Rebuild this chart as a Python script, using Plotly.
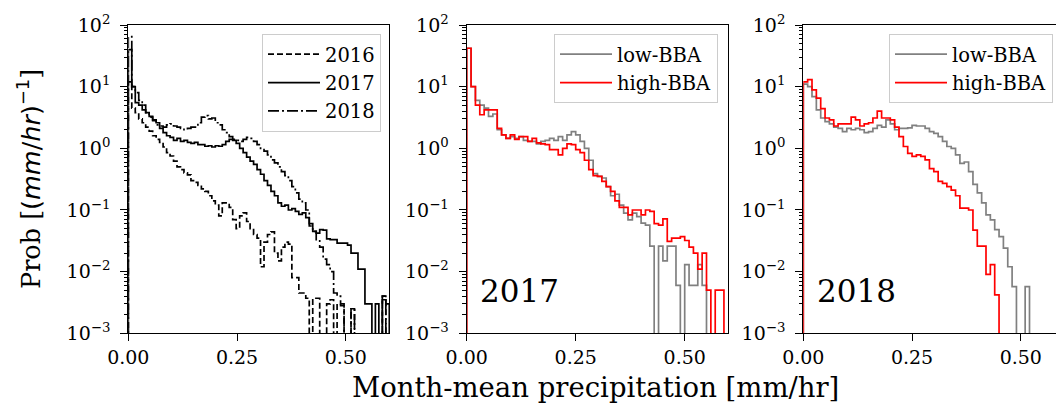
import numpy as np
import plotly.graph_objects as go

# ---------------- data ----------------
# left panel: bin width 0.008 mm/hr, 75 bins from 0 to 0.6
LEFT_BIN = 0.008
y2016 = [12, 4.5, 3.8, 3.0, 2.6, 2.2, 1.9, 1.6, 1.4, 1.25,
         1.05, 0.85, 0.75, 0.62, 0.5, 0.45, 0.4, 0.37, 0.3, 0.28,
         0.25, 0.22, 0.2, 0.17, 0.14, 0.12, 0.08, 0.13, 0.13, 0.11,
         0.07, 0.05, 0.08, 0.09, 0.065, 0.05, 0.04, 0.035, 0.012, 0.03,
         0.04, 0.044, 0.02, 0.015, 0.025, 0.03, 0.028, 0.008, 0.008, 0.0045,
         0.0045, 0.0037, 0, 0.0037, 0.0037, 0, 0, 0.003, 0.0035, 0,
         0.003, 0.0028, 0, 0, 0.0025, 0, 0, 0, 0, 0,
         0, 0, 0, 0.004, 0]
y2017 = [40, 10, 5.5, 5.0, 4.2, 3.8, 3.3, 2.9, 2.6, 2.1,
         1.8, 1.6, 1.5, 1.35, 1.45, 1.3, 1.35, 1.25, 1.2, 1.25,
         1.15, 1.15, 1.08, 1.1, 1.05, 1.1, 1.08, 1.15, 1.3, 1.4,
         1.35, 1.2, 1.0, 0.85, 0.72, 0.62, 0.55, 0.45, 0.38, 0.3,
         0.25, 0.2, 0.17, 0.13, 0.115, 0.12, 0.1, 0.105, 0.095, 0.085,
         0.09, 0.075, 0.06, 0.045, 0.042, 0.048, 0.047, 0.034, 0.033, 0.033,
         0.029, 0.029, 0.029, 0.027, 0.02, 0.02, 0.011, 0.011, 0.003, 0.003,
         0, 0.003, 0, 0.0035, 0.003]
y2018 = [65, 10, 8, 6, 5, 3.8, 3.2, 2.8, 2.4, 2.3,
         2.2, 2.4, 2.5, 2.3, 2.2, 2.1, 2.0, 2.1, 2.2, 2.2,
         2.6, 3.2, 3.4, 3.0, 3.1, 2.6, 2.4, 2.0, 1.8, 1.55,
         1.4, 1.35, 1.3, 1.4, 1.5, 1.45, 1.3, 1.15, 1.0, 0.9,
         0.78, 0.65, 0.58, 0.5, 0.42, 0.36, 0.3, 0.24, 0.19, 0.15,
         0.13, 0.1, 0.055, 0.045, 0.033, 0.025, 0.016, 0.013, 0.01, 0.0045,
         0.004, 0.003, 0, 0, 0.0025, 0, 0, 0, 0, 0,
         0, 0, 0, 0.004, 0]

# middle / right panels: bin width 0.01 mm/hr, 60 bins from 0 to 0.6
BBA_BIN = 0.01
lo2017 = [42, 10, 6.0, 5.0, 4.5, 3.3, 3.6, 2.0, 1.65, 1.45,
          1.55, 1.45, 1.55, 1.35, 1.3, 1.3, 1.18, 1.3, 1.35, 1.45,
          1.35, 1.55, 1.35, 1.65, 1.86, 1.65, 1.3, 1.0, 0.64, 0.39,
          0.35, 0.33, 0.24, 0.17, 0.18, 0.12, 0.089, 0.069, 0.089, 0.078,
          0.061, 0.057, 0.026, 0, 0.026, 0.015, 0.026, 0.026, 0.006, 0,
          0.013, 0.006, 0.006, 0.013, 0.006, 0, 0, 0, 0, 0]
hi2017 = [42, 10, 5.0, 3.5, 4.2, 4.2, 4.2, 2.1, 1.65, 1.45,
          1.65, 1.4, 1.55, 1.55, 1.3, 1.45, 1.23, 1.18, 1.15, 0.95,
          0.95, 0.78, 1.0, 1.18, 1.15, 0.95, 0.85, 0.64, 0.45, 0.36,
          0.35, 0.29, 0.24, 0.2, 0.14, 0.11, 0.11, 0.083, 0.1, 0.1,
          0.083, 0.1, 0.095, 0.06, 0.057, 0.072, 0.031, 0.035, 0.035, 0.037,
          0.032, 0.025, 0.02, 0.011, 0.02, 0.005, 0, 0.005, 0.005, 0]
lo2018 = [11, 10, 6.9, 4.2, 3.1, 2.7, 2.5, 2.2, 2.1, 1.86,
          2.1, 2.0, 2.1, 2.0, 1.8, 1.86, 2.1, 2.35, 2.2, 2.9,
          2.5, 2.0, 2.1, 2.1, 2.15, 2.35, 2.3, 2.3, 2.1, 1.86,
          1.75, 1.55, 1.3, 1.07, 1.0, 0.78, 0.57, 0.6, 0.42, 0.26,
          0.19, 0.13, 0.083, 0.069, 0.048, 0.037, 0.024, 0.012, 0.0057, 0,
          0, 0.0057, 0, 0, 0, 0, 0, 0, 0, 0]
hi2018 = [12, 13, 8.9, 6.5, 4.4, 3.1, 2.9, 2.3, 2.5, 2.5,
          2.5, 3.2, 2.9, 2.3, 2.5, 2.6, 3.1, 4.0, 3.1, 3.1,
          2.9, 2.2, 1.55, 1.07, 0.83, 0.74, 0.78, 0.74, 0.65, 0.47,
          0.42, 0.29, 0.27, 0.24, 0.21, 0.17, 0.107, 0.107, 0.1, 0.047,
          0.026, 0.026, 0.009, 0.013, 0.0042, 0, 0, 0, 0, 0,
          0, 0, 0, 0, 0, 0, 0, 0, 0, 0]

x_tickvals = [0, 0.25, 0.5]
x_ticktext = ["0.00", "0.25", "0.50"]
y_tickvals = [1e-3, 1e-2, 1e-1, 1e0, 1e1, 1e2]
y_ticktext = ["10<sup>−3</sup>", "10<sup>−2</sup>", "10<sup>−1</sup>",
              "10<sup>0</sup>", "10<sup>1</sup>", "10<sup>2</sup>"]
minor_vals = [k * 10.0 ** p for p in range(-3, 2) for k in range(2, 10)]

# ---------------- helpers ----------------
FLOOR = 1e-7  # empty bins drop below the axis (log scale)


def step_xy(vals, width):
    n = len(vals)
    edges = np.arange(n + 1) * width
    x = [edges[0]] + list(edges[:-1]) + [edges[-1]]
    y = [FLOOR] + [v if v > 0 else FLOOR for v in vals] + [FLOOR]
    return x, y


SERIF = "DejaVu Serif"
W, H = 1056, 407

fig = go.Figure()


def add_step(vals, width, name, color, dash, xa, ya, legend):
    x, y = step_xy(vals, width)
    fig.add_trace(go.Scatter(
        x=x, y=y, mode="lines", name=name, line_shape="hv",
        line=dict(color=color, width=1.7, dash=dash),
        xaxis=xa, yaxis=ya, legend=legend, hoverinfo="skip"))


add_step(y2016, LEFT_BIN, "2016", "black", "6px,3px", "x", "y", "legend")
add_step(y2017, LEFT_BIN, "2017", "black", "solid", "x", "y", "legend")
add_step(y2018, LEFT_BIN, "2018", "black", "11px,3px,2px,3px", "x", "y", "legend")
add_step(lo2017, BBA_BIN, "low-BBA", "#808080", "solid", "x2", "y2", "legend2")
add_step(hi2017, BBA_BIN, "high-BBA", "#ff0000", "solid", "x2", "y2", "legend2")
add_step(lo2018, BBA_BIN, "low-BBA", "#808080", "solid", "x3", "y3", "legend3")
add_step(hi2018, BBA_BIN, "high-BBA", "#ff0000", "solid", "x3", "y3", "legend3")

# ---------------- axes ----------------
px_x = lambda p: p / W
py_y = lambda p: 1 - p / H

top, bottom = 25, 333.3
ydom = [py_y(bottom), py_y(top)]
panels = [
    (128.3, 389.3, [0, 0.6], True),
    (466.7, 728.3, [0, 0.6], True),
    (803.3, 1056, [0, (1056 - 803.3) / 435.0], False),
]

tickfont = dict(family=SERIF, size=19, color="black")
for i, (l, r, xr, right_spine) in enumerate(panels, start=1):
    sfx = "" if i == 1 else str(i)
    fig.layout["xaxis" + sfx] = dict(
        domain=[px_x(l), min(px_x(r), 1.0)], range=xr, anchor="y" + sfx,
        showline=True, linecolor="black", linewidth=1.3, mirror=True,
        ticks="outside", ticklen=7, tickwidth=1.3, tickcolor="black",
        tickmode="array", tickvals=x_tickvals, ticktext=x_ticktext,
        tickfont=tickfont, showgrid=False, zeroline=False, fixedrange=True)
    fig.layout["yaxis" + sfx] = dict(
        domain=ydom, type="log", range=[-3, 2], anchor="x" + sfx,
        showline=True, linecolor="black", linewidth=1.3,
        mirror=True if right_spine else False,
        ticks="outside", ticklen=7, tickwidth=1.3, tickcolor="black",
        tickmode="array", tickvals=y_tickvals, ticktext=y_ticktext,
        tickfont=tickfont, ticklabelstandoff=6,
        showgrid=False, zeroline=False, fixedrange=True,
        minor=dict(ticks="outside", ticklen=3.5, tickwidth=1, tickcolor="black",
                   tickmode="array", tickvals=minor_vals, showgrid=False))

# ---------------- legends ----------------
def leg(right_px, top_px):
    return dict(x=px_x(right_px), xanchor="right", y=py_y(top_px), yanchor="top",
                bgcolor="rgba(255,255,255,0.8)", bordercolor="#cccccc",
                borderwidth=1, font=dict(family=SERIF, size=19.5, color="black"),
                itemwidth=52)


fig.update_layout(legend=leg(381, 34), legend2=leg(718, 34), legend3=leg(1053, 34))

# ---------------- texts ----------------
fig.add_annotation(x=px_x(478), y=py_y(311), xref="paper", yref="paper",
                   xanchor="left", yanchor="bottom", text="2017", showarrow=False,
                   font=dict(family=SERIF, size=31, color="black"))
fig.add_annotation(x=px_x(815), y=py_y(311), xref="paper", yref="paper",
                   xanchor="left", yanchor="bottom", text="2018", showarrow=False,
                   font=dict(family=SERIF, size=31, color="black"))
fig.add_annotation(x=px_x(595), y=py_y(387), xref="paper", yref="paper",
                   xanchor="center", yanchor="middle",
                   text="Month-mean precipitation [mm/hr]", showarrow=False,
                   font=dict(family=SERIF, size=27.5, color="black"))
fig.add_annotation(x=px_x(29), y=py_y(179), xref="paper", yref="paper",
                   xanchor="center", yanchor="middle", textangle=-90,
                   text="Prob [<span style=\"font-family:DejaVu Sans\">(<i>mm</i>/<i>hr</i>)<sup>−1</sup></span>]",
                   showarrow=False, font=dict(family=SERIF, size=25.5, color="black"))

fig.update_layout(width=W, height=H, margin=dict(l=0, r=0, t=0, b=0, autoexpand=False),
                  paper_bgcolor="white", plot_bgcolor="white", showlegend=True)

fig.write_html("out.html")
